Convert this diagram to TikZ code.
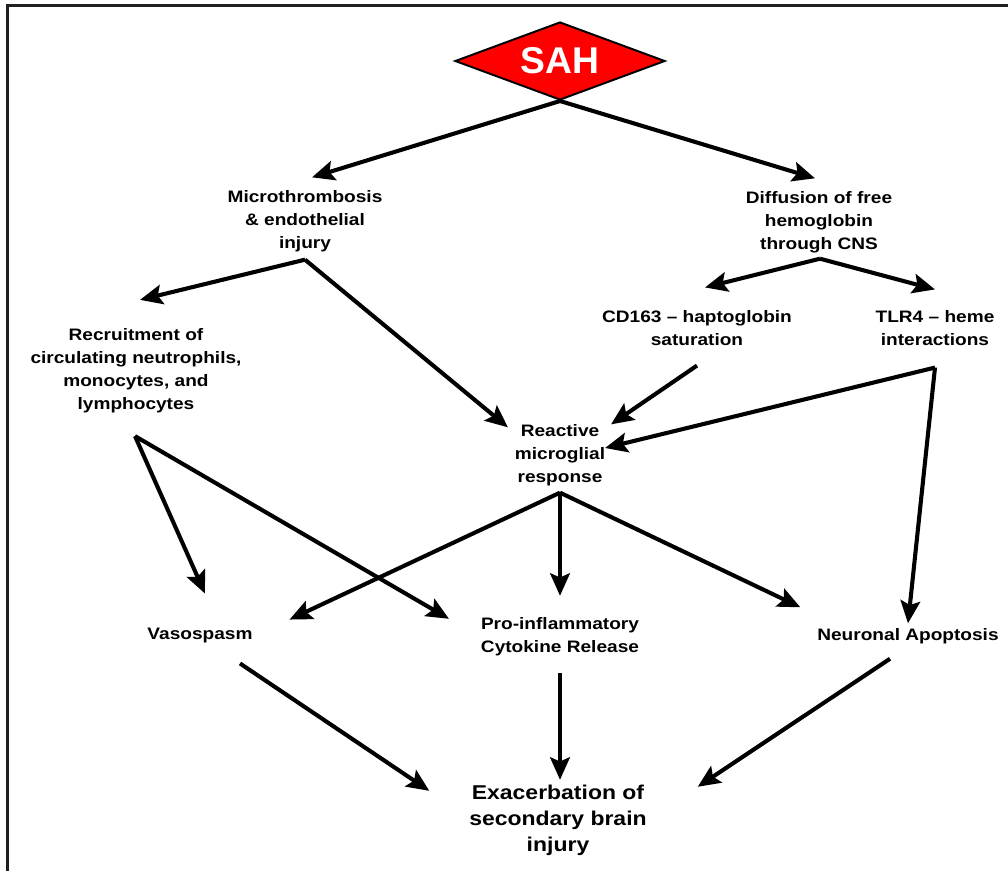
\documentclass[tikz,border=0pt]{standalone}
\usepackage{fontspec}
\setmainfont{Liberation Sans}[FakeStretch=1.15]
\newfontfamily\sahfont{Liberation Sans}
\usetikzlibrary{shapes.geometric,arrows.meta,calc}

\tikzset{
  txt/.style={align=center,inner sep=0pt,outer sep=0pt,
    font=\fontsize{11.8}{16.3}\selectfont\bfseries},
  bigtxt/.style={txt,font=\fontsize{14.2}{18.4}\selectfont\bfseries},
  arr/.style={line width=2.9pt,-{Stealth[length=16pt,width=14pt,inset=3pt]}},
  sahbox/.style={diamond,shape aspect=2.7,draw=black,line width=1.4pt,fill=red,inner sep=0pt,
    minimum width=5.25cm,minimum height=1.95cm,text=white,
    font=\sahfont\fontsize{26.5}{30}\selectfont\bfseries},
}

\begin{document}
\begin{tikzpicture}[x=0.025cm,y=-0.025cm]
 \useasboundingbox (0,0) rectangle (1008,871);
 \draw[line width=1.5pt,gray!25!black] (7.5,871) -- (7.5,5.5) -- (1008,5.5);
 %
 \node[sahbox] (sah) at (560,61) {SAH};
 \node[txt] (micro) at (305,221) {Microthrombosis\\\& endothelial\\injury};
 \node[txt] (diff) at (819,222) {Diffusion of free\\hemoglobin\\through CNS};
 \node[txt] (recruit) at (136,371) {Recruitment of\\circulating neutrophils,\\monocytes, and\\lymphocytes};
 \node[txt] (cd163) at (697,328) {CD163 -- haptoglobin\\saturation};
 \node[txt] (tlr4) at (935,328) {TLR4 -- heme\\interactions};
 \node[txt] (react) at (560,455) {Reactive\\microglial\\response};
 \node[txt] (vaso) at (200,636) {Vasospasm};
 \node[txt] (proinf) at (560,637) {Pro-inflammatory\\Cytokine Release};
 \node[txt] (neur) at (908,636) {Neuronal Apoptosis};
 \node[bigtxt] (exac) at (558,820) {Exacerbation of\\secondary brain\\injury};
 %
 \coordinate (mj) at ($(micro.south)+(0,8)$);
 \coordinate (dj) at ($(diff.south)+(1,6)$);
 \coordinate (cj) at ($(recruit.south)+(-1,23)$);
 \coordinate (hj) at ($(cd163.south)+(0,20)$);
 \coordinate (tj) at ($(tlr4.south)+(0,22)$);
 \coordinate (rj) at ($(react.south)+(0,7)$);
 %
 \draw[arr] (sah.south) -- ([shift={(7,-13)}]micro.north);
 \draw[arr] (sah.south) -- ([shift={(-4,-13)}]diff.north);
 \draw[arr] (mj) -- ([shift={(4,-29)}]recruit.north);
 \draw[arr] (mj) -- ([shift={(-7,3)}]react.north west);
 \draw[arr] (dj) -- ([shift={(8,-23)}]cd163.north);
 \draw[arr] (dj) -- ([shift={(0,-21)}]tlr4.north);
 \draw[arr] (hj) -- ([shift={(6,0)}]react.north east);
 \draw[arr] (tj) -- ([shift={(0,-7)}]react.east);
 \draw[arr] (tj) -- ([shift={(0,-5)}]neur.north);
 \draw[arr] (rj) -- ([shift={(37,-9)}]vaso.north east);
 \draw[arr] (rj) -- ([shift={(0,-22)}]proinf.north);
 \draw[arr] (rj) -- ([shift={(-17,-21)}]neur.north west);
 \draw[arr] (cj) -- ([shift={(5,-35)}]vaso.north);
 \draw[arr] (cj) -- ([shift={(-32,1)}]proinf.north west);
 \draw[arr] ([shift={(40,20)}]vaso.south) -- ([shift={(-40,6)}]exac.north west);
 \draw[arr] ([shift={(0,17)}]proinf.south) -- ([shift={(2,-5)}]exac.north);
 \draw[arr] ([shift={(-18,15)}]neur.south) -- ([shift={(51,2)}]exac.north east);
\end{tikzpicture}
\end{document}
